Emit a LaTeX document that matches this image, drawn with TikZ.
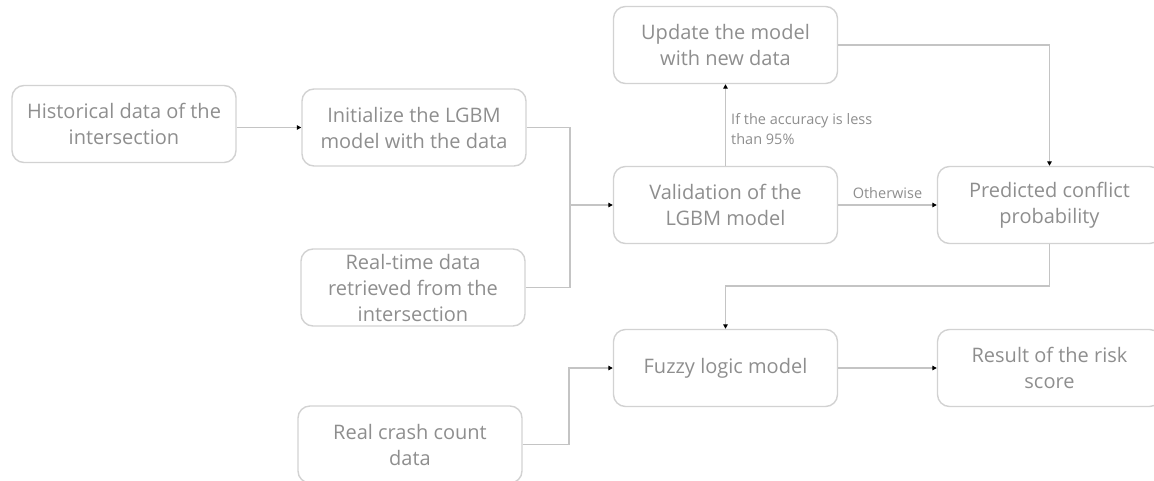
\documentclass[tikz,border=0pt]{standalone}
\usepackage{fontspec}
\setmainfont{Open Sans}
\usetikzlibrary{arrows.meta}
\definecolor{boxline}{HTML}{D2D2D2}
\definecolor{conn}{HTML}{C4C4C4}
\definecolor{txt}{HTML}{8E8E8E}
\tikzset{
  stepbox/.style={draw=boxline, line width=1.4pt, rounded corners=12pt,
    minimum width=224pt, minimum height=77pt, align=center, text=txt,
    inner sep=2pt, font=\fontsize{20}{26}\selectfont},
  conline/.style={draw=conn, line width=1.4pt},
  arrline/.style={conline, -{Triangle[length=4.5pt,width=4.5pt,color=black]}},
  lbl/.style={text=txt, font=\fontsize{14.5}{20}\selectfont, align=left, inner sep=3pt}
}
\begin{document}
\begin{tikzpicture}[x=1pt,y=-1pt]
\useasboundingbox (0,0) rectangle (1154,480);

% process boxes
\node[stepbox] (hist)  at (124,124)    {Historical data of the\\intersection};
\node[stepbox] (init)  at (414,127.5)  {Initialize the LGBM\\model with the data};
\node[stepbox] (rt)    at (413,287.5)  {Real-time data\\retrieved from the\\intersection};
\node[stepbox] (crash) at (410,444.5)  {Real crash count\\data};
\node[stepbox] (upd)   at (725.5,45)   {Update the model\\with new data};
\node[stepbox] (val)   at (725.5,205)  {Validation of the\\LGBM model};
\node[stepbox] (pred)  at (1049.5,205) {Predicted conflict\\probability};
\node[stepbox] (fuzzy) at (725.5,368)  {Fuzzy logic model};
\node[stepbox] (res)   at (1049.5,368) {Result of the risk\\score};

% junction points of the merging lines
\coordinate (j1) at (570,205);
\coordinate (j2) at (569,368);
\coordinate (k)  at (725.5,286);

% connectors
\draw[arrline] (hist.east |- init.west) -- (init.west);
\draw[arrline] (init.east) -| (j1) -- (val.west);
\draw[conline] (rt.east) -| (j1);
\draw[arrline] (val.north) -- node[lbl, right, pos=0.45, xshift=2pt] {If the accuracy is less\\than 95\%} (upd.south);
\draw[arrline] (val.east) -- node[lbl, above, inner sep=6pt] {Otherwise} (pred.west);
\draw[arrline] (upd.east) -| (pred.north);
\draw[arrline] (pred.south) |- (k) -- (fuzzy.north);
\draw[arrline] (crash.east) -| (j2) -- (fuzzy.west);
\draw[arrline] (fuzzy.east) -- (res.west);
\end{tikzpicture}
\end{document}
